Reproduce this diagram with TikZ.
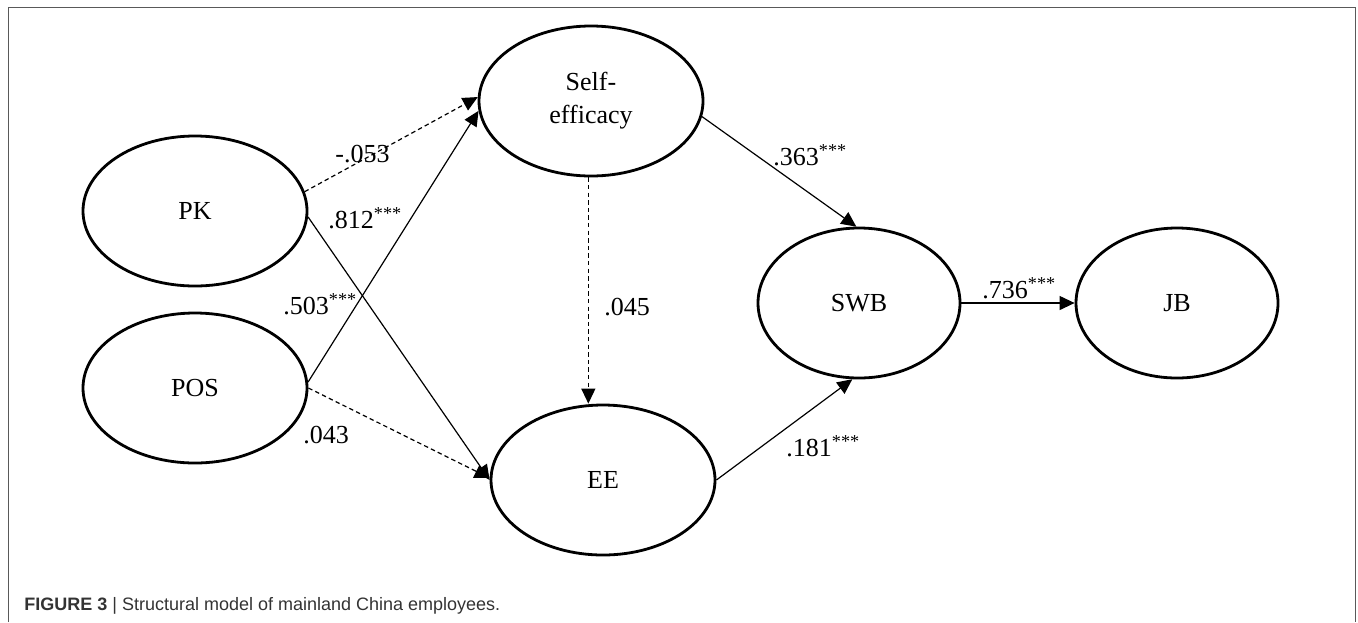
\documentclass[tikz,border=0pt]{standalone}
\usepackage{fontspec}
\setmainfont{Liberation Serif}
\newfontfamily\capfont{Liberation Sans}
\usetikzlibrary{shapes.geometric,arrows.meta}

\tikzstyle{latent} = [ellipse,draw,line width=1.4pt,minimum width=112pt,minimum height=75pt,inner sep=0pt]
\tikzstyle{outcome} = [latent,minimum width=101pt]
\tikzstyle{effect} = [draw,line width=0.6pt,-{Triangle[length=7.5pt,width=7pt]}]
\tikzstyle{weak} = [effect,dash pattern=on 2.2pt off 1.6pt]
\tikzstyle{coef} = [anchor=base west,inner sep=0pt]
\tikzstyle{every node}=[font=\fontsize{13pt}{15pt}\selectfont]

\begin{document}
\begin{tikzpicture}[x=0.5pt,y=-0.5pt]
	\useasboundingbox (0,0) rectangle (1358,622);
	\draw[line width=0.5pt,color=black!65] (8,622) |- (1355,7) -- (1355,622);
	% latent variables
	\node[latent] (PK) at (195,211) {PK};
	\node[latent] (POS) at (195,388) {POS};
	\node[latent,align=center,font=\fontsize{13pt}{16.5pt}\selectfont] (SE) at (591,101) {Self-\\efficacy};
	\node[latent] (EE) at (603,480) {EE};
	\node[outcome] (SWB) at (859,303) {SWB};
	\node[outcome] (JB) at (1177,303) {JB};
	% paths
	\draw[weak] (PK.10) -- (SE.178);
	\draw[effect] (POS.3) -- (SE.185);
	\draw[effect] (PK.-3) -- (EE.west);
	\draw[weak] (POS.east) -- (EE.179);
	\draw[weak] (SE.268) -- (SE.268 |- EE.north);
	\draw[effect] (SE.-8) -- (SWB.92);
	\draw[effect] (EE.east) -- (SWB.265);
	\draw[effect] (SWB.east) -- (JB.west);
	% coefficients
	\node[coef] (c1) at (335,162) {-.053};
	\node[coef] (c2) at (328,228) {.812\textsuperscript{***}};
	\node[coef] (c3) at (283,314) {.503\textsuperscript{***}};
	\node[coef] (c4) at (303,443) {.043};
	\node[coef] (c5) at (604,315) {.045};
	\node[coef] (c6) at (773,165) {.363\textsuperscript{***}};
	\node[coef] (c7) at (982,298) {.736\textsuperscript{***}};
	\node[coef] (c8) at (786,456) {.181\textsuperscript{***}};
	% caption
	\node[anchor=base west,inner sep=0pt,font=\capfont\fontsize{9pt}{10pt}\selectfont,color=black!80] (cap) at (24,610)
		{\textbf{FIGURE 3} | Structural model of mainland China employees.};
\end{tikzpicture}
\end{document}
